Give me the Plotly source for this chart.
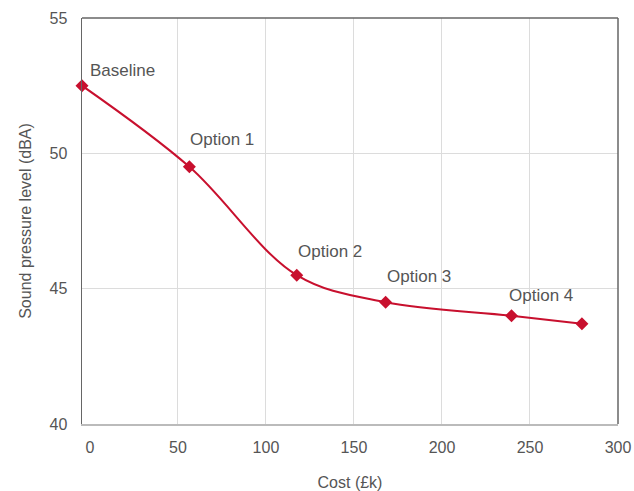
import plotly.graph_objects as go

cost = [-4.5, 56.5, 117.5, 168, 239.5, 279.5]
spl = [52.5, 49.5, 45.5, 44.5, 44.0, 43.7]
labels = ["Baseline", "Option 1", "Option 2", "Option 3", "Option 4", ""]
x_ticks = [0, 50, 100, 150, 200, 250, 300]
x_grid = [50, 100, 150, 200, 250]
y_ticks = [40, 45, 50, 55]

RED = "#C8102E"
TXT = "#555555"
FONT = "Liberation Sans, Arial, Helvetica, sans-serif"

fig = go.Figure()
fig.add_trace(go.Scatter(
    x=cost, y=spl, mode="lines+markers",
    line=dict(color=RED, width=2, shape="spline", smoothing=1.0),
    marker=dict(symbol="diamond", size=10, color=RED),
    showlegend=False, hoverinfo="skip", cliponaxis=False,
))

# pixel offsets of each label from its point (style only)
label_shift = [(6, 15), (-1, 27), (-1, 24), (-1, 26), (-5, 20), (0, 0)]
for xv, yv, t, (dx, dy) in zip(cost, spl, labels, label_shift):
    if not t:
        continue
    fig.add_annotation(x=xv, y=yv, text=t, showarrow=False,
                       xanchor="left", yanchor="middle", xshift=dx, yshift=dy,
                       font=dict(family=FONT, size=17, color=TXT))

# hidden overlay axis carrying the vertical gridlines (none at 0)
fig.add_trace(go.Scatter(x=[x_grid[0]], y=[spl[0]], xaxis="x2", mode="markers",
                         marker=dict(opacity=0), showlegend=False, hoverinfo="skip"))

fig.update_layout(
    width=634, height=491,
    margin=dict(l=82, r=16, t=18, b=67, autoexpand=False),
    paper_bgcolor="white", plot_bgcolor="white",
    font=dict(family=FONT, color=TXT, size=16),
    xaxis=dict(
        range=[-4.5, 300], tickvals=x_ticks, showgrid=False, zeroline=False,
        showline=True, linecolor="#bbbbbb", linewidth=1.5, mirror=False,
        ticks="outside", ticklen=8, tickcolor="rgba(0,0,0,0)", automargin=False,
        tickfont=dict(size=16, color=TXT),
        title=dict(text="Cost (£k)", font=dict(size=16, color=TXT), standoff=22),
    ),
    xaxis2=dict(
        range=[-4.5, 300], tickvals=x_grid, overlaying="x", showgrid=True,
        gridcolor="#dcdcdc", gridwidth=1, showticklabels=False, zeroline=False,
        showline=False, layer="below traces", automargin=False,
    ),
    yaxis=dict(
        range=[40, 55], tickvals=y_ticks, showgrid=True, gridcolor="#dcdcdc",
        gridwidth=1, zeroline=False, showline=True, linecolor="#666666",
        linewidth=1.5, mirror=False, automargin=False,
        ticks="outside", ticklen=10, tickcolor="rgba(0,0,0,0)",
        tickfont=dict(size=16, color=TXT),
        title=dict(text="Sound pressure level (dBA)", font=dict(size=16, color=TXT), standoff=14),
    ),
)

# top and right border of the plot box
fig.add_shape(type="line", xref="paper", yref="paper", x0=0, x1=1, y0=1, y1=1,
              line=dict(color="#666666", width=1.5))
fig.add_shape(type="line", xref="paper", yref="paper", x0=1, x1=1, y0=0, y1=1,
              line=dict(color="#666666", width=1.5))

# remove the page's default body margin so the figure fills the window exactly
fig.write_html(
    "out.html",
    config={"displayModeBar": False, "staticPlot": True},
    post_script="document.documentElement.style.overflow='hidden';"
                "document.body.style.margin='0';document.body.style.overflow='hidden';",
)
